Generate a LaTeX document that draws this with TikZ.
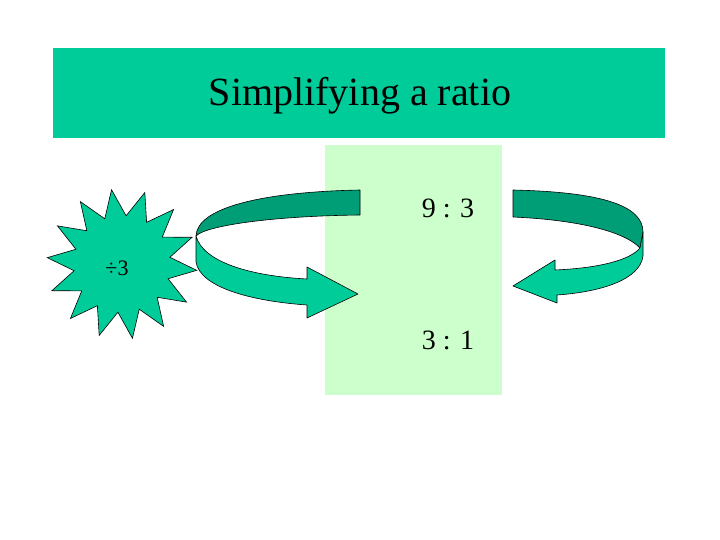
\documentclass[tikz,border=0pt]{standalone}
\usepackage{fontspec}
\setmainfont{Liberation Serif}
\usetikzlibrary{shapes.geometric}
\definecolor{teal1}{HTML}{00CC99}
\definecolor{teal2}{HTML}{009E76}
\definecolor{pale}{HTML}{CCFFCC}
\tikzset{band/.style={draw=black,line width=0.6pt,line join=round}}
\begin{document}
\begin{tikzpicture}[x=1pt,y=-1pt]
\useasboundingbox (0,0) rectangle (720,540);
\fill[white] (0,0) rectangle (720,540);
\node[fill=teal1,minimum width=612pt,minimum height=90pt,inner sep=0] (title) at (359,93) {};
\node[font=\fontsize{40}{44}\selectfont] (tt) at (360,96) {Simplifying a ratio};
\node[fill=pale,minimum width=177pt,minimum height=250pt,inner sep=0] (box) at (413.5,270) {};
\node[font=\fontsize{28}{32}\selectfont] (r1) at (448,208) {9 : 3};
\node[font=\fontsize{28}{32}\selectfont] (r2) at (448,340) {3 : 1};
% star
\node[star,star points=14,star point ratio=1.55,minimum size=150pt,fill=teal1,draw=black,line width=0.6pt,inner sep=0,rotate=8] (st) at (122,264) {};
\node[font=\fontsize{22}{24}\selectfont] (div) at (117,268) {÷3};
% left arrow
\path[band,fill=teal2] (360,190) .. controls (260,192) and (197,208) .. (196,236)
  .. controls (205,226) and (270,216) .. (360,215) -- cycle;
\path[band,fill=teal1] (196,236) -- (196,262) .. controls (200,287) and (250,301) .. (307,305)
  -- (307,318) -- (358,294) -- (307,267) -- (307,279) .. controls (250,276) and (203,262) .. (196,236) -- cycle;
% right arrow
\path[band,fill=teal2] (513,190) .. controls (600,192) and (643,205) .. (643,232) -- (640,248)
  .. controls (625,232) and (580,220) .. (513,217) -- cycle;
\path[band,fill=teal1] (643,232) -- (643,256) .. controls (640,280) and (600,292) .. (557,295)
  -- (557,303) -- (513,286) -- (555,260) -- (555,270) .. controls (600,268) and (630,260) .. (640,248) -- cycle;
\end{tikzpicture}
\end{document}
